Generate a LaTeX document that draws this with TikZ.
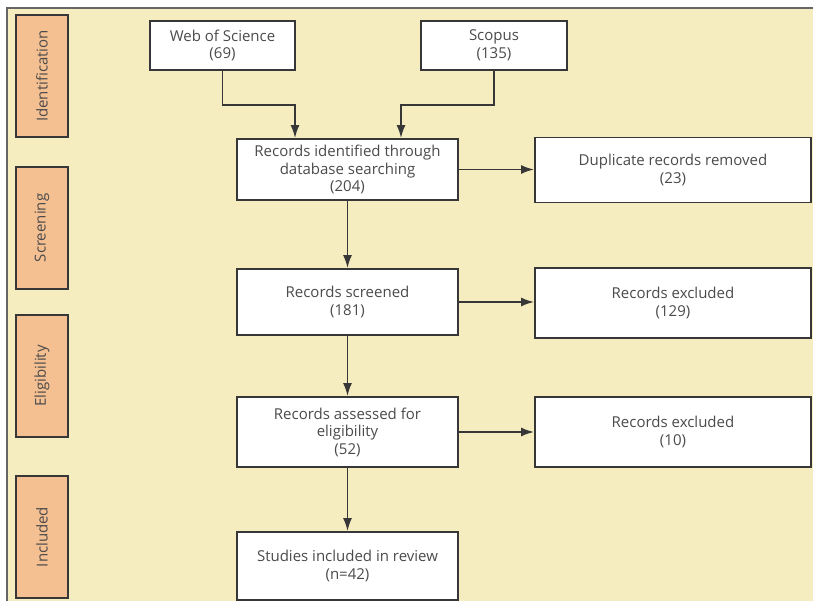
\documentclass[tikz,border=0pt]{standalone}
\usepackage{fontspec}
\setmainfont{Open Sans}
\usetikzlibrary{arrows.meta}
\definecolor{paper}{RGB}{245,236,192}
\definecolor{phasefill}{RGB}{245,192,145}
\definecolor{inkline}{RGB}{55,55,55}
\definecolor{inktext}{RGB}{75,75,75}
\begin{document}
\begin{tikzpicture}[x=1pt, y=-1pt,
    box/.style={draw=inkline, line width=1.8pt, fill=white, text=inktext, align=center,
      font=\fontsize{15}{17.5}\selectfont, inner sep=0pt},
    phase/.style={draw=inkline, line width=1.8pt, fill=phasefill, text=inktext,
      minimum width=52pt, minimum height=122pt, inner sep=0pt,
      font=\fontsize{15}{17}\selectfont},
    arr/.style={draw=inkline, line width=1.8pt, -{Latex[length=13pt,width=9pt]}}]
    \useasboundingbox (0,0) rectangle (813,601);
    % background frame
    \fill[paper] (8,9) rectangle (813,601);
    \draw[gray!80!black, line width=2pt] (7,601) -- (7,8) -- (813,8);
    % phases
    \node[phase] (pid) at (42,76) {\rotatebox{90}{Identification}};
    \node[phase] (psc) at (42,228) {\rotatebox{90}{Screening}};
    \node[phase] (pel) at (42,376) {\rotatebox{90}{Eligibility}};
    \node[phase] (pin) at (42,537) {\rotatebox{90}{Included}};
    % flow boxes
    \node[box, minimum width=145pt, minimum height=49pt] (wos) at (222.5,45.5) {Web of Science\\(69)};
    \node[box, minimum width=146pt, minimum height=49pt] (scopus) at (494,45.5) {Scopus\\(135)};
    \node[box, minimum width=221pt, minimum height=61pt] (ident) at (347.5,169.5) {Records identified through\\database searching\\(204)};
    \node[box, minimum width=276pt, minimum height=65pt] (dup) at (673,170) {Duplicate records removed\\(23)};
    \node[box, minimum width=221pt, minimum height=66pt] (screened) at (347.5,302) {Records screened\\(181)};
    \node[box, minimum width=276pt, minimum height=70pt] (excla) at (673,303) {Records excluded\\(129)};
    \node[box, minimum width=221pt, minimum height=70pt] (assessed) at (347.5,432) {Records assessed for\\eligibility\\(52)};
    \node[box, minimum width=276pt, minimum height=70pt] (exclb) at (673,432) {Records excluded\\(10)};
    \node[box, minimum width=221pt, minimum height=68pt] (studies) at (347.5,566) {Studies included in review\\(n=42)};
    % connectors
    \draw[arr] (wos.south) |- (295,105) -- (ident.north -| 295,0);
    \draw[arr] (scopus.south) |- (401,105) -- (ident.north -| 401,0);
    \draw[arr] (ident.east) -- (ident.east -| dup.west);
    \draw[arr] (ident) -- (screened);
    \draw[arr] (screened.east) -- (screened.east -| excla.west);
    \draw[arr] (screened) -- (assessed);
    \draw[arr] (assessed.east) -- (assessed.east -| exclb.west);
    \draw[arr] (assessed) -- (studies);
\end{tikzpicture}
\end{document}
